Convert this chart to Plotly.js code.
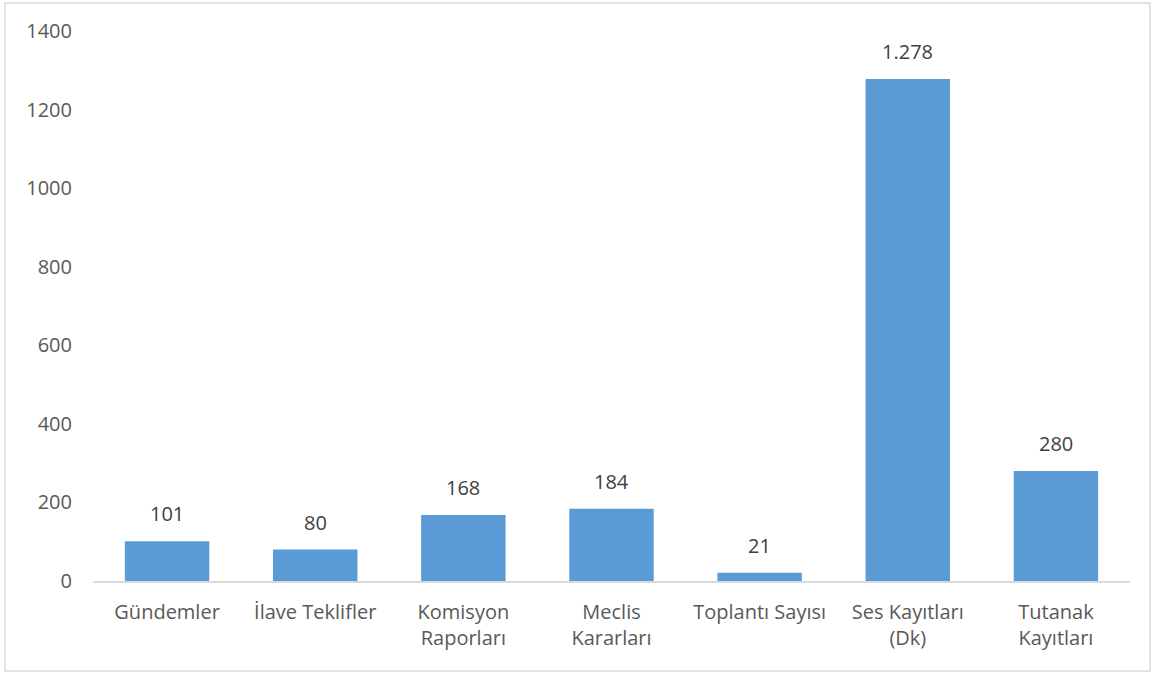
<!DOCTYPE html>
<html>
<head>
<meta charset="utf-8">
<script src="https://cdn.plot.ly/plotly-3.0.1.min.js"></script>
<style>html,body{margin:0;padding:0;background:#fff;}#chart{width:1152px;height:675px;}</style>
</head>
<body>
<div id="chart"></div>
<script>
const categories = ["Gündemler", "İlave Teklifler", "Komisyon<br>Raporları", "Meclis<br>Kararları", "Toplantı Sayısı", "Ses Kayıtları<br>(Dk)", "Tutanak<br>Kayıtları"];
const values = [101, 80, 168, 184, 21, 1278, 280];
const yTicks = [0, 200, 400, 600, 800, 1000, 1200, 1400];

const font = "Open Sans, DejaVu Sans, sans-serif";
const W = 1152, H = 675;
const m = {l: 93, r: 22, t: 31, b: 94};

const trace = {
  type: "bar",
  x: categories,
  y: values,
  marker: {color: "#5B9BD5"},
  hoverinfo: "skip"
};

const annotations = categories.map((c, i) => ({
  x: c, y: values[i], xref: "x", yref: "y",
  text: values[i].toLocaleString("tr-TR"),
  showarrow: false, yanchor: "bottom", yshift: 12,
  font: {family: font, size: 20, color: "#404040"}
}));

const pw = W - m.l - m.r, ph = H - m.t - m.b;
const layout = {
  width: W, height: H,
  margin: m,
  paper_bgcolor: "#fff", plot_bgcolor: "#fff",
  showlegend: false,
  bargap: 0.43,
  font: {family: font, size: 20, color: "#595959"},
  xaxis: {
    type: "category",
    showgrid: false, zeroline: false,
    showline: true, linecolor: "#d9d9d9", linewidth: 1.5,
    ticks: "", ticklabelstandoff: 12,
    tickfont: {family: font, size: 20, color: "#595959"},
    fixedrange: true
  },
  yaxis: {
    range: [0, 1400],
    tickvals: yTicks, ticktext: yTicks.map(String),
    showgrid: false, zeroline: false, showline: false,
    ticks: "", ticklabelstandoff: 20,
    tickfont: {family: font, size: 20, color: "#595959"},
    fixedrange: true
  },
  annotations: annotations,
  shapes: [{
    type: "rect", xref: "paper", yref: "paper",
    x0: (5 - m.l) / pw, x1: (1150 - m.l) / pw,
    y0: (H - m.b - 671) / ph, y1: (H - m.b - 3) / ph,
    line: {color: "#d9d9d9", width: 1.5}, fillcolor: "rgba(0,0,0,0)", layer: "below"
  }]
};

Plotly.newPlot("chart", [trace], layout, {displayModeBar: false, staticPlot: true});
</script>
</body>
</html>
